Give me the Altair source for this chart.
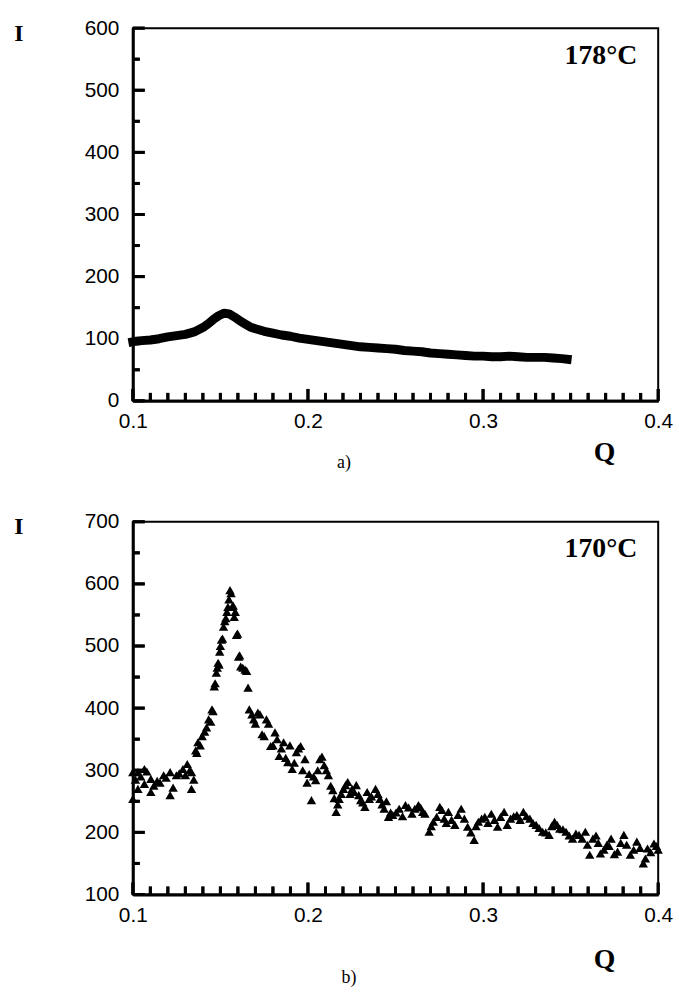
import altair as alt
import pandas as pd

# ---------------- data: panel a (178 °C) ----------------
qa = [0.100, 0.102, 0.105, 0.110, 0.115, 0.120, 0.125, 0.130, 0.135, 0.140,
      0.143, 0.146, 0.149, 0.152, 0.155, 0.158, 0.161, 0.164, 0.167, 0.170,
      0.175, 0.180, 0.185, 0.190, 0.195, 0.200, 0.205, 0.210, 0.215, 0.220,
      0.225, 0.230, 0.235, 0.240, 0.245, 0.250, 0.255, 0.260, 0.265, 0.270,
      0.275, 0.280, 0.285, 0.290, 0.295, 0.300, 0.305, 0.310, 0.315, 0.320,
      0.325, 0.330, 0.335, 0.340, 0.345, 0.348]
ia = [95, 96, 97, 98, 100, 103, 105, 107, 111, 118,
      124, 131, 137, 141, 140, 135, 129, 124, 119, 116,
      112, 109, 106, 104, 101, 99, 97, 95, 93, 91,
      89, 87, 86, 85, 84, 83, 81, 80, 79, 77,
      76, 75, 74, 73, 72, 72, 71, 71, 72, 71,
      70, 70, 70, 69, 68, 67]

# ---------------- data: panel b (170 °C) ----------------
qb = [0.1000, 0.1000, 0.1029, 0.1029, 0.1066, 0.1066, 0.1103, 0.1103, 0.1139, 0.1176,
      0.1213, 0.1213, 0.1249, 0.1286, 0.1311, 0.1335, 0.1335, 0.1359, 0.1372, 0.1396,
      0.1421, 0.1433, 0.1452, 0.1465, 0.1477, 0.1487, 0.1496, 0.1506, 0.1518, 0.1531,
      0.1543, 0.1555, 0.1567, 0.1579, 0.1592, 0.1604, 0.1616, 0.1641, 0.1658, 0.1665,
      0.1690, 0.1714, 0.1738, 0.1763, 0.1787, 0.1812, 0.1836, 0.1861, 0.1885, 0.1910,
      0.1934, 0.1958, 0.1983, 0.2007, 0.2020, 0.2044, 0.2068, 0.2093, 0.2117, 0.2142,
      0.2161, 0.2178, 0.2203, 0.2227, 0.2252, 0.2276, 0.2301, 0.2325, 0.2350, 0.2386,
      0.2411, 0.2435, 0.2460, 0.2484, 0.2521, 0.2557, 0.2594, 0.2631, 0.2655, 0.2692,
      0.2716, 0.2753, 0.2778, 0.2802, 0.2839, 0.2875, 0.2912, 0.2949, 0.2973, 0.3010,
      0.3047, 0.3083, 0.3120, 0.3157, 0.3193, 0.3230, 0.3267, 0.3303, 0.3340, 0.3377,
      0.3408, 0.3438, 0.3474, 0.3511, 0.3548, 0.3584, 0.3609, 0.3645, 0.3670, 0.3707,
      0.3731, 0.3768, 0.3804, 0.3841, 0.3878, 0.3915, 0.3939, 0.3976, 0.4000,
      0.1015, 0.1045, 0.1080, 0.1120, 0.1155, 0.1190, 0.1230, 0.1265, 0.1300, 0.1325,
      0.1348, 0.1365, 0.1385, 0.1410, 0.1445, 0.1458, 0.1470, 0.1482, 0.1492, 0.1500,
      0.1512, 0.1525, 0.1537, 0.1549, 0.1561, 0.1573, 0.1585, 0.1598, 0.1610, 0.1628,
      0.1650, 0.1680, 0.1700, 0.1726, 0.1750, 0.1775, 0.1800, 0.1824, 0.1848, 0.1873,
      0.1897, 0.1922, 0.1946, 0.1970, 0.1995, 0.2032, 0.2056, 0.2080, 0.2105, 0.2130,
      0.2150, 0.2170, 0.2190, 0.2215, 0.2240, 0.2264, 0.2290, 0.2313, 0.2338, 0.2362,
      0.2400, 0.2423, 0.2448, 0.2472, 0.2503, 0.2540, 0.2575, 0.2610, 0.2643, 0.2668,
      0.2704, 0.2735, 0.2765, 0.2790, 0.2820, 0.2857, 0.2893, 0.2930, 0.2960, 0.2992,
      0.3028, 0.3065, 0.3100, 0.3138, 0.3175, 0.3212, 0.3248, 0.3285, 0.3320, 0.3358,
      0.3392, 0.3423, 0.3456, 0.3492, 0.3530, 0.3566, 0.3596, 0.3627, 0.3658, 0.3690,
      0.3720, 0.3750, 0.3786, 0.3820, 0.3860, 0.3896, 0.3927, 0.3957, 0.3990]
ib = [254, 297, 297, 270, 302, 278, 286, 265, 283, 292,
      297, 260, 292, 302, 310, 297, 270, 332, 345, 355,
      369, 382, 398, 435, 457, 473, 491, 510, 531, 545,
      563, 590, 563, 547, 518, 483, 467, 462, 433, 398,
      382, 393, 358, 382, 339, 361, 323, 345, 313, 302,
      329, 339, 318, 294, 252, 284, 318, 308, 292, 268,
      233, 254, 270, 281, 270, 276, 252, 241, 254, 270,
      254, 238, 225, 228, 238, 244, 230, 244, 233, 201,
      217, 241, 222, 233, 212, 238, 209, 188, 217, 225,
      230, 209, 233, 222, 228, 233, 222, 212, 201, 196,
      217, 206, 201, 190, 196, 201, 164, 195, 166, 180,
      190, 169, 196, 164, 185, 150, 174, 182, 172,
      285, 290, 298, 275, 280, 288, 272, 295, 292, 300,
      285, 328, 340, 362, 378, 395, 440, 465, 470, 500,
      512, 540, 555, 575, 585, 565, 555, 520, 485, 465,
      460, 390, 375, 390, 355, 375, 340, 350, 335, 320,
      340, 312, 335, 300, 280, 290, 300, 322, 300, 275,
      255, 245, 262, 276, 262, 265, 260, 248, 265, 258,
      262, 245, 250, 232, 232, 226, 240, 238, 240, 230,
      210, 225, 236, 215, 220, 228, 222, 200, 210, 222,
      215, 220, 225, 212, 226, 220, 226, 215, 207, 200,
      210, 212, 205, 195, 198, 190, 180, 190, 183, 172,
      178, 165, 183, 180, 172, 175, 158, 168, 178]

# axis tick values (labels and inward tick marks)
x_major = [0.1, 0.2, 0.3, 0.4]
x_minor = [0.11, 0.12, 0.13, 0.14, 0.15, 0.16, 0.17, 0.18, 0.19,
           0.21, 0.22, 0.23, 0.24, 0.25, 0.26, 0.27, 0.28, 0.29,
           0.31, 0.32, 0.33, 0.34, 0.35, 0.36, 0.37, 0.38, 0.39]
ya_major = [0, 100, 200, 300, 400, 500, 600]
ya_minor = [50, 150, 250, 350, 450, 550]
yb_major = [100, 200, 300, 400, 500, 600, 700]
yb_minor = [150, 250, 350, 450, 550, 650]

W, H = 530, 376
SERIF = "Liberation Serif"
SANS = "Liberation Sans"
XDOM = [0.1, 0.4]


def panel(df, marks, ydom, ymaj, ymin, temp, letter, q_dy, let_x, let_dy):
    xs = alt.Scale(domain=XDOM, nice=False, zero=False)
    ys = alt.Scale(domain=ydom, nice=False, zero=False)
    xaxis = alt.Axis(values=x_major, format=".1f", ticks=False, grid=False,
                     labelFont=SANS, labelFontSize=21, labelColor="black",
                     labelPadding=10, domainColor="black", domainWidth=3,
                     title=None, labelFlush=False)
    yaxis = alt.Axis(values=ymaj, ticks=False, grid=False,
                     labelFont=SANS, labelFontSize=21, labelColor="black",
                     labelPadding=14, domainColor="black", domainWidth=3,
                     title="I", titleAngle=0, titleFont=SERIF, titleFontSize=24,
                     titleFontWeight="bold", titleColor="black",
                     titleX=-120, titleY=5, titleAlign="left",
                     titleBaseline="middle", labelFlush=False)
    main = marks.encode(
        x=alt.X("q:Q", scale=xs, axis=xaxis),
        y=alt.Y("i:Q", scale=ys, axis=yaxis),
    )
    # pixel lengths of the inward ticks, expressed in data units
    xu = (XDOM[1] - XDOM[0]) / W
    yu = (ydom[1] - ydom[0]) / H
    layers = [main]
    for vals, length in ((ymaj, 12), (ymin, 7)):
        d = pd.DataFrame({"v": vals})
        layers.append(alt.Chart(d).mark_rule(color="black", strokeWidth=3).encode(
            y=alt.Y("v:Q", scale=ys, axis=yaxis),
            x=alt.datum(XDOM[0], scale=xs),
            x2=alt.datum(XDOM[0] + length * xu)))
        layers.append(alt.Chart(d).mark_tick(
            color="black", thickness=3, size=length, orient="horizontal",
            xOffset=length / 2, opacity=1).encode(
            y=alt.Y("v:Q", scale=ys, axis=yaxis), x=alt.value(0)))
    for vals, length in ((x_major, 12), (x_minor, 8)):
        d = pd.DataFrame({"v": vals})
        layers.append(alt.Chart(d).mark_rule(color="black", strokeWidth=3).encode(
            x=alt.X("v:Q", scale=xs, axis=xaxis),
            y=alt.datum(ydom[0], scale=ys),
            y2=alt.datum(ydom[0] + length * yu)))
        layers.append(alt.Chart(d).mark_tick(
            color="black", thickness=3, size=length, orient="vertical",
            yOffset=-length / 2, opacity=1).encode(
            x=alt.X("v:Q", scale=xs, axis=xaxis), y=alt.value(H)))
    txt = pd.DataFrame({"t": [temp]})
    layers.append(alt.Chart(txt).mark_text(
        font=SERIF, fontSize=28, fontWeight="bold", align="right",
        baseline="middle", color="black").encode(
        text="t:N", x=alt.value(W - 21), y=alt.value(28)))
    qdf = pd.DataFrame({"t": ["Q"]})
    layers.append(alt.Chart(qdf).mark_text(
        font=SERIF, fontSize=28, fontWeight="bold", align="center",
        baseline="middle", color="black").encode(
        text="t:N", x=alt.value(476), y=alt.value(H + q_dy)))
    ldf = pd.DataFrame({"t": [letter]})
    layers.append(alt.Chart(ldf).mark_text(
        font=SERIF, fontSize=18, align="center", baseline="middle",
        color="black").encode(
        text="t:N", x=alt.value(let_x), y=alt.value(H + let_dy)))
    return alt.layer(*layers).properties(width=W, height=H)


dfa = pd.DataFrame({"q": qa, "i": ia})
dfb = pd.DataFrame({"q": qb, "i": ib})

mark_a = alt.Chart(dfa).mark_line(color="black", strokeWidth=9,
                                  strokeCap="square", strokeJoin="round")
mark_b = alt.Chart(dfb).mark_point(shape="triangle-up", filled=True, size=90,
                                   color="black", opacity=1)

pa = panel(dfa, mark_a, [0, 600], ya_major, ya_minor, "178°C", "a)", 53, 213, 63)
pb = panel(dfb, mark_b, [100, 700], yb_major, yb_minor, "170°C", "b)", 66, 218, 84)

chart = alt.vconcat(pa, pb, spacing=37).properties(
    padding={"left": 13, "top": 12, "right": 5, "bottom": 0}
).configure(background="white", view=alt.ViewConfig(stroke="black", strokeWidth=2))

chart.save("out.html", embed_options={"renderer": "svg", "actions": False})
